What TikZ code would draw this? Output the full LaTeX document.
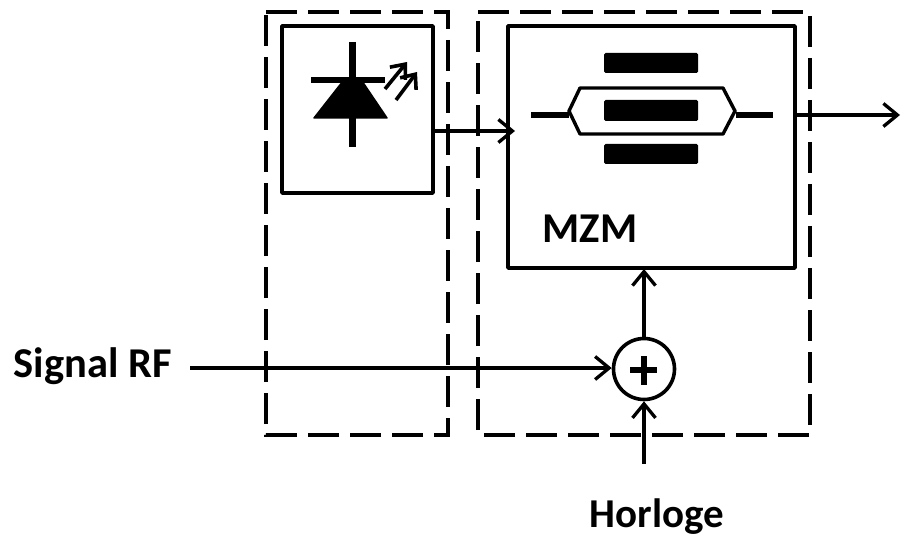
\documentclass[tikz,border=0pt]{standalone}
\usepackage{fontspec}
\setmainfont{Carlito}
\usetikzlibrary{arrows.meta}
\tikzset{
  blockbox/.style={draw,line width=3.6pt,line join=round,inner sep=0pt},
  dashbox/.style={draw,line width=3.6pt,dash pattern=on 31pt off 11pt},
  conn/.style={line width=3.3pt,-{Straight Barb[length=14pt,width=23pt,line width=3.3pt]}},
  label/.style={font=\bfseries\fontsize{42.5}{46}\selectfont,inner sep=0pt},
  electrode/.style={fill=black,rounded corners=1.5pt},
  thickbar/.style={line width=6.5pt},
  wave/.style={line width=3.6pt,-{Straight Barb[length=12pt,width=20pt,line width=3.6pt]}}
}
\begin{document}
\begin{tikzpicture}[x=1pt,y=-1pt]
\useasboundingbox (0,0) rectangle (901,537);
% dashed enclosures
\draw[dashbox] (266,12) -- (448,12) -- (448,435) -- (266,435) -- cycle;
\draw[dashbox] (478,12) -- (810,12) -- (810,435) -- (478,435) -- cycle;
% blocks
\node[blockbox,minimum width=151pt,minimum height=167pt] (ld) at (357.5,109.5) {};
\node[blockbox,minimum width=287pt,minimum height=242pt] (mzm) at (651.5,147) {};
\node[draw,circle,line width=3.6pt,minimum size=61pt,inner sep=0pt] (sum) at (644,369) {};
\fill (630,367) rectangle (657,372.5);
\fill (641,356) rectangle (646.5,385);
% laser diode
\draw[line width=7pt] (352.5,42) -- (352.5,147);
\draw[thickbar] (311,80) -- (385,80);
\fill[line join=round,draw,line width=1.5pt] (343,81) -- (362,81) -- (387,118) -- (314,118) -- cycle;
\draw[wave] (385,89) -- (407,62);
\draw[wave] (396,100) -- (417,72);
% modulator
\fill[electrode] (604,53) rectangle (698,73);
\fill[electrode] (604,100) rectangle (698,121);
\fill[electrode] (604,144) rectangle (698,164);
\draw[line width=3.4pt,line join=round] (569,111) -- (580,88) -- (723,88) -- (735,111) -- (723,134) -- (580,134) -- cycle;
\draw[thickbar] (531,115) -- (569,115);
\draw[thickbar] (736,115) -- (773,115);
% labels
\node[label] (mzmlabel) at (590,229) {MZM};
\node[label,anchor=east] (rf) at (172,366) {Signal RF};
\node[label,font=\bfseries\fontsize{41}{44}\selectfont,anchor=base] (hor) at (657,527) {Horloge};
% connectors
\coordinate (rfstart) at (190,368);
\coordinate (horstart) at (644,464);
\coordinate (out) at (900,115);
\coordinate (mzmin) at (515,131);
\coordinate (mzmout) at (644,269);
\draw[conn] (ld.east |- mzmin) -- (mzmin);
\draw[conn] (mzm.east |- out) -- (out);
\draw[conn] (rfstart) -- (sum.west |- rfstart);
\draw[conn] (horstart) -- (sum.south);
\draw[conn] (sum.north) -- (mzmout);
\end{tikzpicture}
\end{document}
